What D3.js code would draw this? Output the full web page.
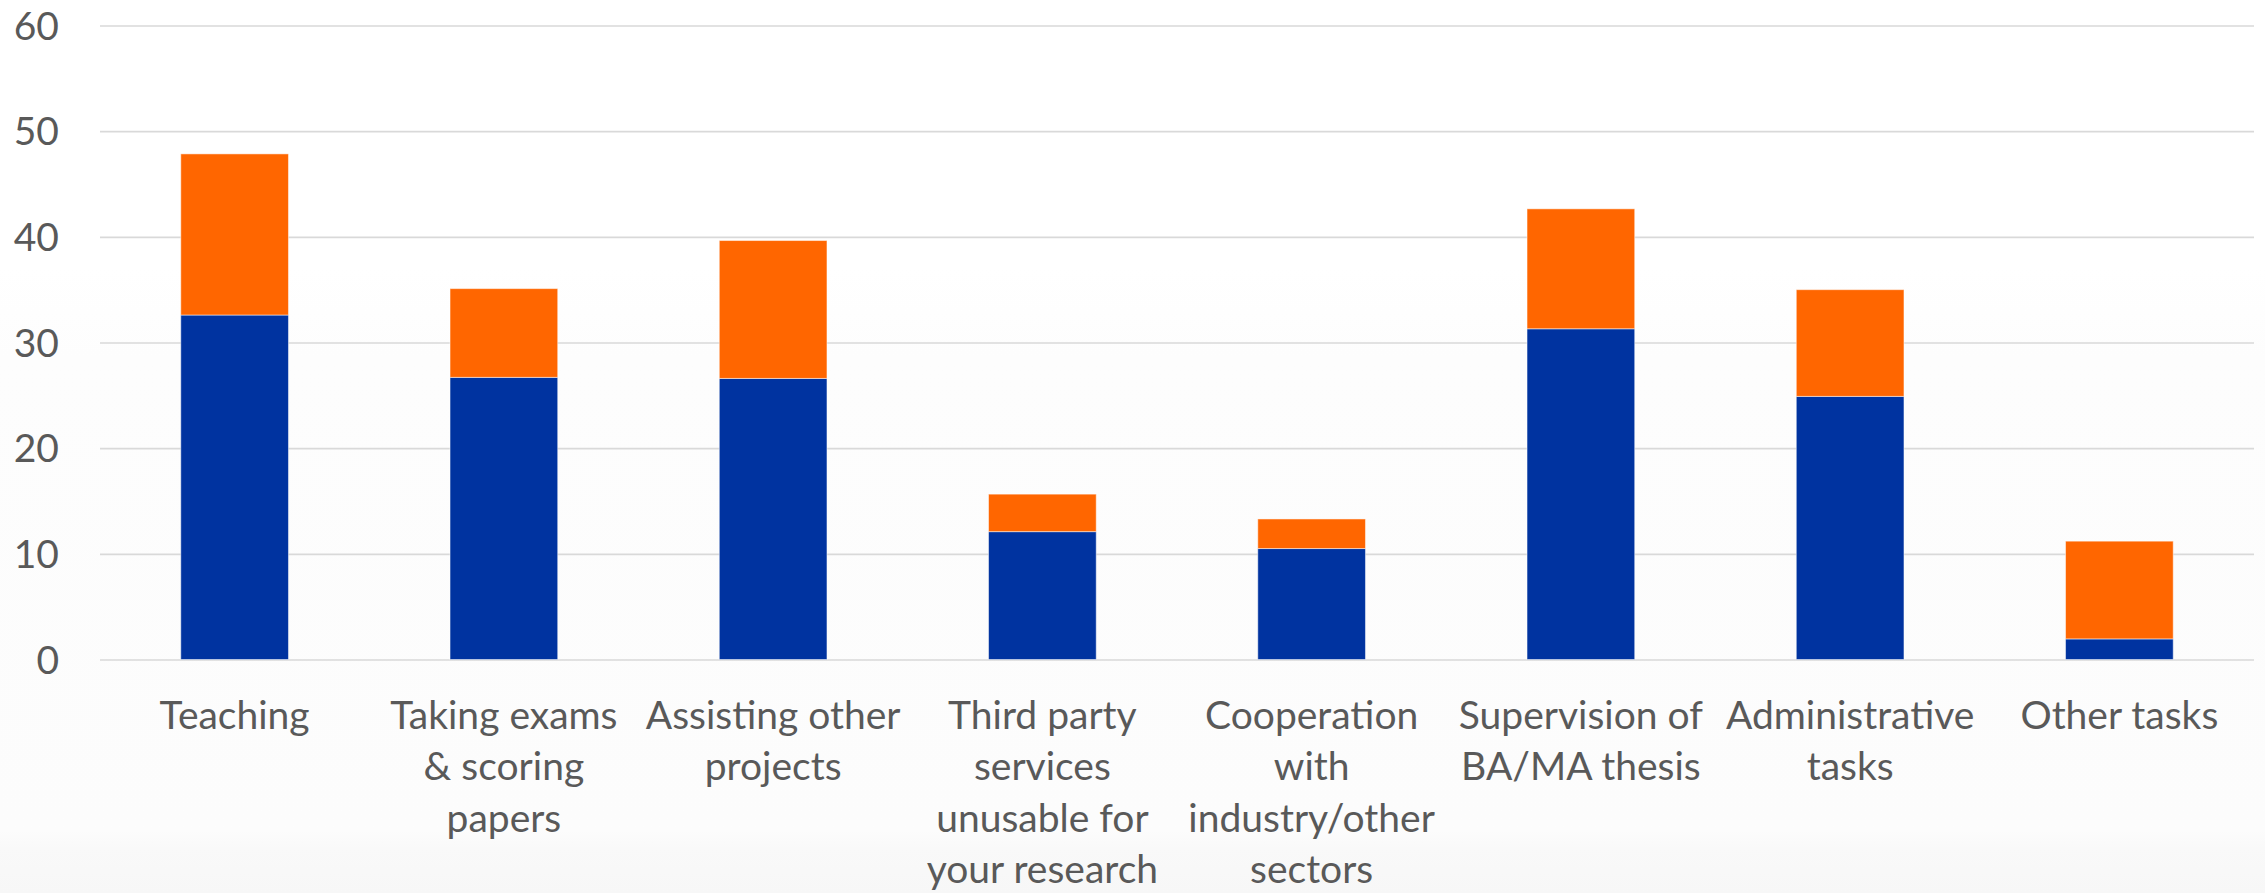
<!DOCTYPE html>
<html>
<head>
<meta charset="utf-8">
<script src="https://cdn.jsdelivr.net/npm/d3@7"></script>
<style>
  body { margin: 0; background: #fff; }
</style>
</head>
<body>
<div id="chart"></div>
<script>
// data
const categories = ["Teaching", "Taking exams & scoring papers", "Assisting other projects",
  "Third party services unusable for your research", "Cooperation with industry/other sectors",
  "Supervision of BA/MA thesis", "Administrative tasks", "Other tasks"];
const labelLines = [
  ["Teaching"],
  ["Taking exams", "& scoring", "papers"],
  ["Assisting other", "projects"],
  ["Third party", "services", "unusable for", "your research"],
  ["Cooperation", "with", "industry/other", "sectors"],
  ["Supervision of", "BA/MA thesis"],
  ["Administrative", "tasks"],
  ["Other tasks"]
];
const blueValues = [32.6, 26.7, 26.6, 12.1, 10.5, 31.3, 24.9, 1.95];
const orangeValues = [15.25, 8.4, 13.05, 3.55, 2.8, 11.35, 10.1, 9.25];
const yTicks = [0, 10, 20, 30, 40, 50, 60];

const W = 2265, H = 893;
const margin = {top: 25.5, right: 11, bottom: 233.5, left: 100};
const width = W - margin.left - margin.right;
const height = H - margin.top - margin.bottom;

const svg = d3.select("#chart")
  .append("svg")
  .attr("width", W)
  .attr("height", H);

// faint grey fade at the bottom
const grad = svg.append("defs").append("linearGradient")
  .attr("id", "bg").attr("x1", 0).attr("y1", 0).attr("x2", 0).attr("y2", 1);
grad.append("stop").attr("offset", "0%").attr("stop-color", "#ffffff");
grad.append("stop").attr("offset", "30%").attr("stop-color", "#ffffff");
grad.append("stop").attr("offset", "40%").attr("stop-color", "#fdfdfd");
grad.append("stop").attr("offset", "93%").attr("stop-color", "#fcfcfc");
grad.append("stop").attr("offset", "95%").attr("stop-color", "#f9f9f9");
grad.append("stop").attr("offset", "100%").attr("stop-color", "#f7f7f7");
svg.append("rect").attr("width", W).attr("height", H).attr("fill", "url(#bg)");

const g = svg.append("g")
  .attr("transform", `translate(${margin.left},${margin.top})`);

const rows = categories.map((c, i) => ({cat: c, blue: blueValues[i], orange: orangeValues[i]}));
const stacked = d3.stack().keys(["blue", "orange"])(rows);
const colors = {blue: "#0033a0", orange: "#ff6600"};

const x = d3.scaleBand()
  .domain(categories)
  .range([0, width])
  .paddingInner(0.6)
  .paddingOuter(0.3);

const y = d3.scaleLinear()
  .domain([0, 60])
  .range([height, 0]);

// y axis with gridlines
const yAxis = g.append("g")
  .call(d3.axisLeft(y).tickValues(yTicks).tickSize(-width).tickPadding(41));
yAxis.select(".domain").remove();
yAxis.selectAll(".tick line").attr("stroke", "#d9d9d9").attr("stroke-width", 1.6);
yAxis.selectAll(".tick text")
  .attr("fill", "#595959")
  .attr("font-family", "Lato, sans-serif")
  .attr("font-size", "39px")
  .attr("dy", "0.35em");

// bars
g.append("g")
  .selectAll("g")
  .data(stacked)
  .join("g")
  .attr("fill", d => colors[d.key])
  .selectAll("rect")
  .data(d => d)
  .join("rect")
  .attr("x", d => x(d.data.cat))
  .attr("y", d => y(d[1]))
  .attr("height", d => y(d[0]) - y(d[1]))
  .attr("width", x.bandwidth())
  .attr("stroke", "#ffffff")
  .attr("stroke-opacity", 0.5)
  .attr("stroke-width", 1);

// x axis, labels wrapped on several lines
const xAxis = g.append("g")
  .attr("transform", `translate(0,${height})`)
  .call(d3.axisBottom(x).tickSize(0).tickFormat(""));
xAxis.select(".domain").remove();
xAxis.selectAll(".tick text").remove();
xAxis.selectAll(".tick")
  .append("text")
  .attr("fill", "#595959")
  .attr("font-family", "Lato, sans-serif")
  .attr("font-size", "39px")
  .attr("text-anchor", "middle")
  .attr("y", 69)
  .selectAll("tspan")
  .data((d, i) => labelLines[i])
  .join("tspan")
  .attr("x", 0)
  .attr("dy", (d, i) => i === 0 ? 0 : 51.5)
  .text(d => d);
</script>
</body>
</html>
